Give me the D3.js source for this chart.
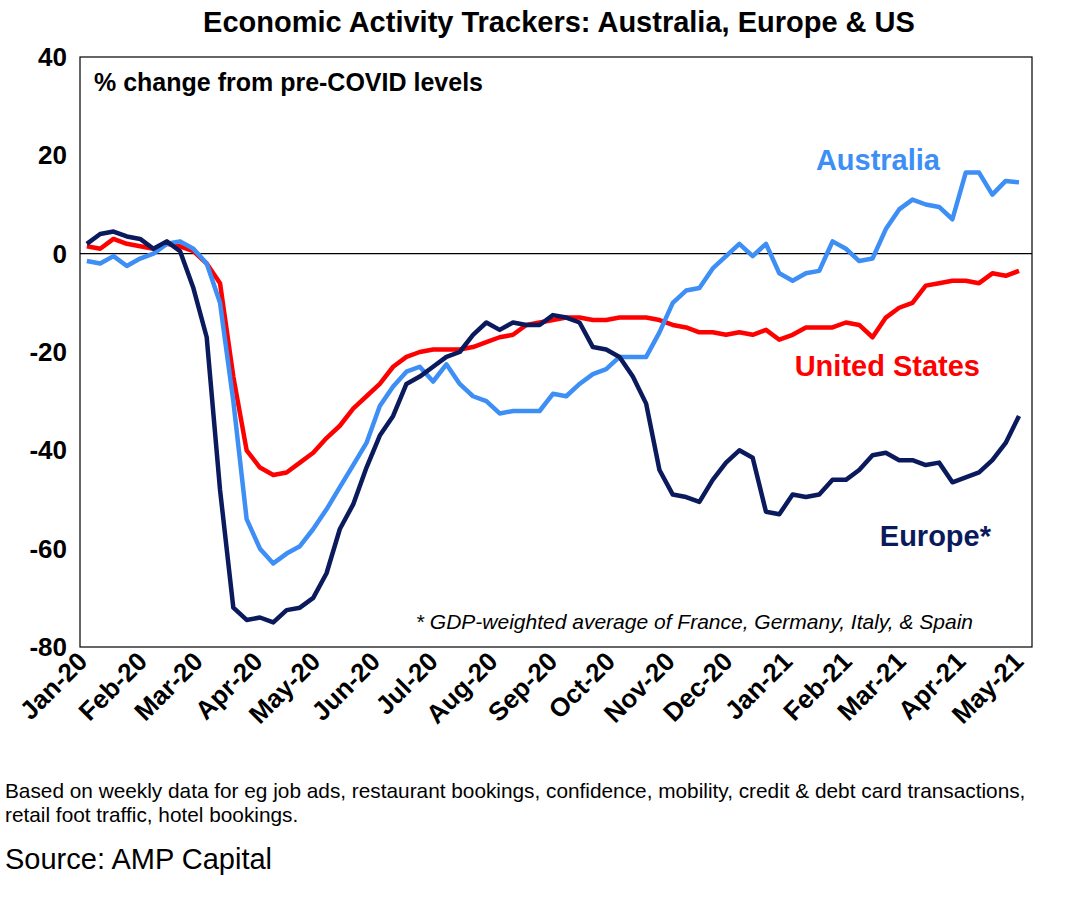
<!DOCTYPE html>
<html><head><meta charset="utf-8">
<script src="https://cdn.jsdelivr.net/npm/d3@7"></script>
<style>body{margin:0;background:#fff;font-family:Arial,"Liberation Sans",sans-serif}</style>
</head><body><svg id="c" width="1069" height="897"></svg>
<script>
const startDate = "2020-01-03";
const australia = [-1.5,-2,-0.5,-2.5,-1,0,2,2.5,1,-2,-10,-30,-54,-60,-63,-61,-59.5,-56,-52,-47.5,-43,-38.5,-31,-27,-24,-23,-26,-22.5,-26.5,-29,-30,-32.5,-32,-32,-32,-28.5,-29,-26.5,-24.5,-23.5,-21,-21,-21,-16,-10,-7.5,-7,-3,-0.5,2,-0.5,2,-4,-5.5,-4,-3.5,2.5,1,-1.5,-1,5,9,11,10,9.5,7,16.5,16.5,12,14.8,14.5];
const us = [1.5,1,3,2,1.5,1,2,1.5,0.5,-2,-6,-25,-40,-43.5,-45,-44.5,-42.5,-40.5,-37.5,-35,-31.5,-29,-26.5,-23,-21,-20,-19.5,-19.5,-19.5,-19,-18,-17,-16.5,-14.5,-14,-13.5,-13,-13,-13.5,-13.5,-13,-13,-13,-13.5,-14.5,-15,-16,-16,-16.5,-16,-16.5,-15.5,-17.5,-16.5,-15,-15,-15,-14,-14.5,-17,-13,-11,-10,-6.5,-6,-5.5,-5.5,-6,-4,-4.5,-3.5];
const europe = [2,4,4.5,3.5,3,1,2.5,0.5,-7,-17,-48,-72,-74.5,-74,-75,-72.5,-72,-70,-65,-56,-51,-43.5,-37,-33,-26.5,-25,-23,-21,-20,-16.5,-14,-15.5,-14,-14.5,-14.5,-12.5,-13,-14,-19,-19.5,-21,-25,-30.5,-44,-49,-49.5,-50.5,-46,-42.5,-40,-41.5,-52.5,-53,-49,-49.5,-49,-46,-46,-44,-41,-40.5,-42,-42,-43,-42.5,-46.5,-45.5,-44.5,-42,-38.5,-33];
const monthLabels = ["Jan-20","Feb-20","Mar-20","Apr-20","May-20","Jun-20","Jul-20","Aug-20","Sep-20","Oct-20","Nov-20","Dec-20","Jan-21","Feb-21","Mar-21","Apr-21","May-21"];
const yTicks = [40,20,0,-20,-40,-60,-80];

const svg = d3.select("#c");
const L=80,R=1032,T=57,B=647;
const n = australia.length;
const t0 = new Date(startDate), tEnd = new Date("2021-05-01");
const dateOf = i => new Date(t0.getTime() + i*(tEnd - t0)/(n-1));
const x = d3.scaleTime().domain([new Date("2020-01-01"), new Date("2021-05-01")]).range([83,1019]);
const y = d3.scaleLinear().domain([-80,40]).range([B,T]);

svg.append("rect").attr("x",L).attr("y",T).attr("width",R-L).attr("height",B-T).attr("fill","none").attr("stroke","#000").attr("stroke-width",1.2);
svg.append("line").attr("x1",L).attr("x2",R).attr("y1",y(0)).attr("y2",y(0)).attr("stroke","#000").attr("stroke-width",1.2);

svg.selectAll(".yt").data(yTicks).join("text").attr("x",67).attr("y",d=>y(d)+9).attr("text-anchor","end")
  .attr("font-size",26).attr("font-weight","bold").text(d=>d);

const months = monthLabels.map((m,i)=>new Date(2020,i,1));
svg.selectAll(".xt").data(months).join("text")
  .attr("transform",d=>`translate(${x(d)+6},${B+16}) rotate(-45)`)
  .attr("text-anchor","end").attr("font-size",26).attr("font-weight","bold")
  .text((d,i)=>monthLabels[i]);

const line = d3.line().x((d,i)=>x(dateOf(i))).y(d=>y(d));
[[us,"#ff0000"],[australia,"#3d8ef5"],[europe,"#0a1a5c"]].forEach(([s,c])=>{
  svg.append("path").datum(s).attr("d",line).attr("fill","none").attr("stroke",c).attr("stroke-width",4.5).attr("stroke-linejoin","round");
});

svg.append("text").attr("x",559).attr("y",32).attr("text-anchor","middle").attr("font-size",29).attr("font-weight","bold").text("Economic Activity Trackers: Australia, Europe & US");
svg.append("text").attr("x",94).attr("y",91).attr("font-size",25).attr("font-weight","bold").text("% change from pre-COVID levels");
svg.append("text").attr("x",940).attr("y",170).attr("text-anchor","end").attr("font-size",29).attr("font-weight","bold").attr("fill","#3d8ef5").text("Australia");
svg.append("text").attr("x",980).attr("y",376).attr("text-anchor","end").attr("font-size",29).attr("font-weight","bold").attr("fill","#ff0000").text("United States");
svg.append("text").attr("x",991).attr("y",546).attr("text-anchor","end").attr("font-size",29).attr("font-weight","bold").attr("fill","#0a1a5c").text("Europe*");
svg.append("text").attr("x",973).attr("y",629).attr("text-anchor","end").attr("font-size",21).attr("font-style","italic").text("* GDP-weighted average of France, Germany, Italy, & Spain");
svg.append("text").attr("x",5).attr("y",798).attr("font-size",20.8).text("Based on weekly data for eg job ads, restaurant bookings, confidence, mobility, credit & debt card transactions,");
svg.append("text").attr("x",5).attr("y",822).attr("font-size",20.8).text("retail foot traffic, hotel bookings.");
svg.append("text").attr("x",5).attr("y",869).attr("font-size",29).text("Source: AMP Capital");
</script></body></html>
